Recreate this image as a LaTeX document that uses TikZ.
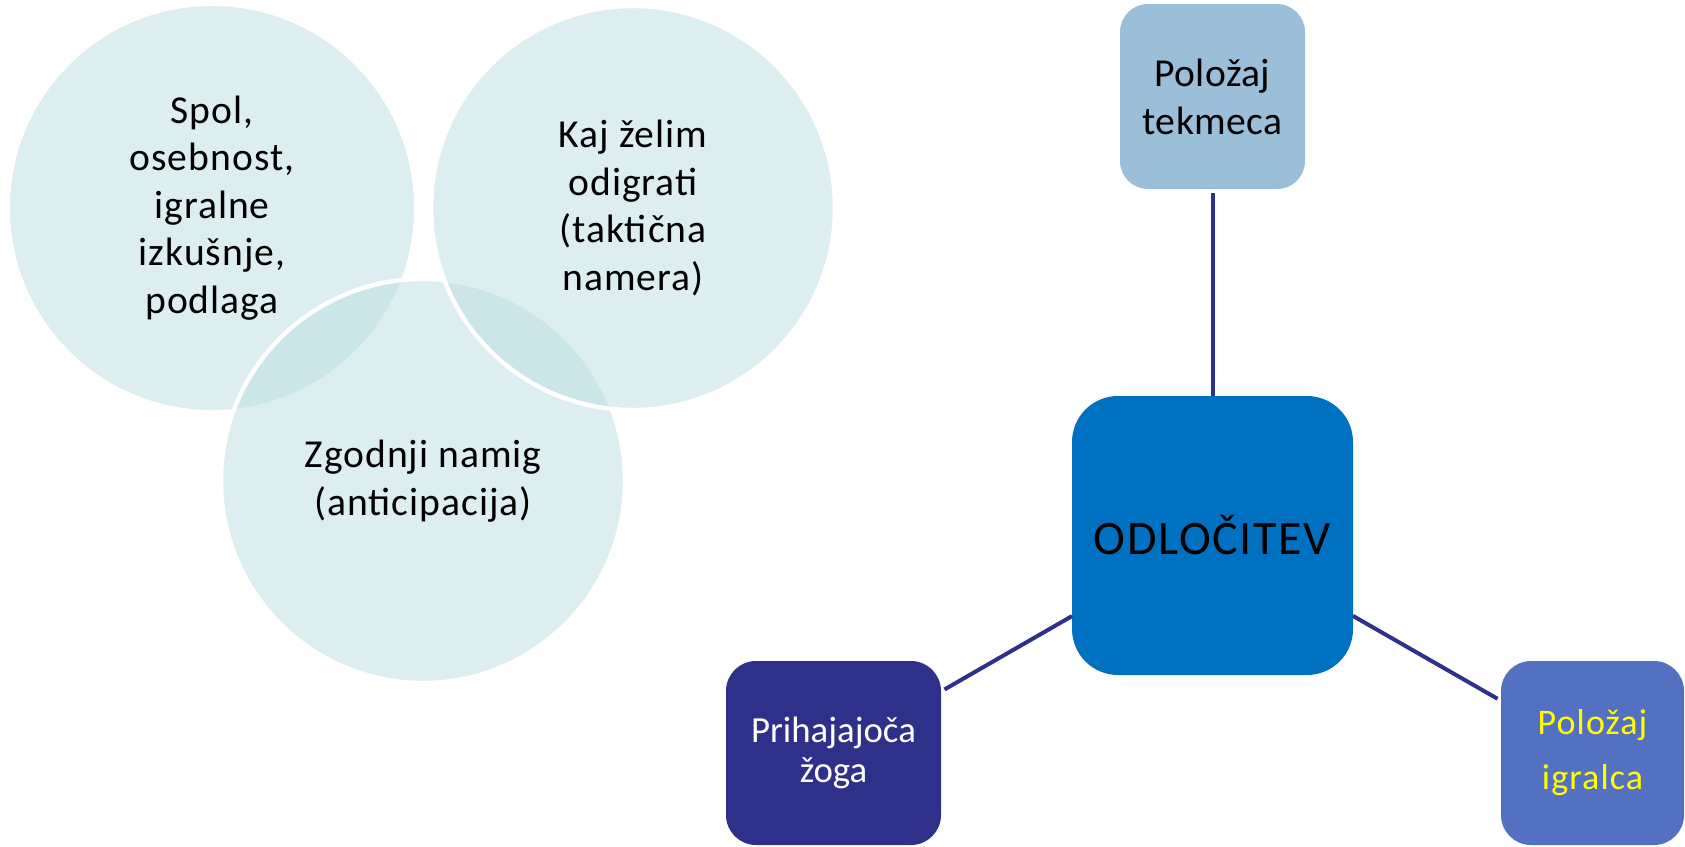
\documentclass[tikz,border=0pt]{standalone}
\usepackage{fontspec}
\setmainfont{Carlito}
\definecolor{venn}{RGB}{183,219,223}
\definecolor{boxtop}{RGB}{155,191,216}
\definecolor{boxmid}{RGB}{0,112,192}
\definecolor{boxleft}{RGB}{46,48,138}
\definecolor{boxright}{RGB}{84,112,193}
\definecolor{linkc}{RGB}{46,48,138}
\definecolor{yel}{RGB}{255,255,0}
\tikzset{
  vennc/.style={circle, minimum size=202pt, inner sep=0pt, outer sep=0pt,
    fill=venn, fill opacity=0.47, text opacity=1, align=center,
    font=\fontsize{19.8pt}{23.75pt}\selectfont\addfontfeature{LetterSpace=2.5}},
  vennedge/.style={draw=white, line width=2.2pt},
  roundbox/.style={rectangle, inner sep=0pt, outer sep=0pt, align=center},
  conn/.style={draw=linkc, line width=2pt, shorten >=2pt}
}
\begin{document}
\begin{tikzpicture}[x=0.5pt,y=-0.5pt]
\useasboundingbox (0,0) rectangle (1685,846);
% Venn circles
\node[vennc] (c1) at (212,208) {Spol,\\osebnost,\\igralne\\izkušnje,\\podlaga};
\node[vennc, vennedge] (c3) at (423,481) {Zgodnji namig\\(anticipacija)};
\node[vennc, vennedge] (c2) at (633,208) {Kaj želim\\odigrati\\(taktična\\namera)};
% Boxes
\node[roundbox, fill=boxtop, minimum width=92.5pt, minimum height=92.5pt,
  rounded corners=14pt, font=\fontsize{19.8pt}{24pt}\selectfont\addfontfeature{LetterSpace=1}]
  (top) at (1212.5,96.5) {Položaj\\tekmeca};
\node[roundbox, fill=boxmid, minimum width=140.5pt, minimum height=139.5pt,
  rounded corners=23pt, font=\fontsize{24pt}{28pt}\selectfont\addfontfeature{LetterSpace=3.5}]
  (mid) at (1212.5,535.5) {ODLOČITEV};
\node[roundbox, fill=boxleft, minimum width=107.5pt, minimum height=92pt,
  rounded corners=15pt, text=white, font=\fontsize{18.4pt}{20pt}\selectfont]
  (left) at (833.5,753) {Prihajajoča\\žoga};
\node[roundbox, fill=boxright, minimum width=91.5pt, minimum height=92pt,
  rounded corners=15pt, text=yel, font=\fontsize{18pt}{27.5pt}\selectfont\addfontfeature{LetterSpace=3}]
  (right) at (1592.5,753) {Položaj\\igralca};
% Connectors
\draw[conn] (mid) -- (top);
\draw[conn] (mid) -- (left);
\draw[conn] (mid) -- (right);
\end{tikzpicture}
\end{document}
